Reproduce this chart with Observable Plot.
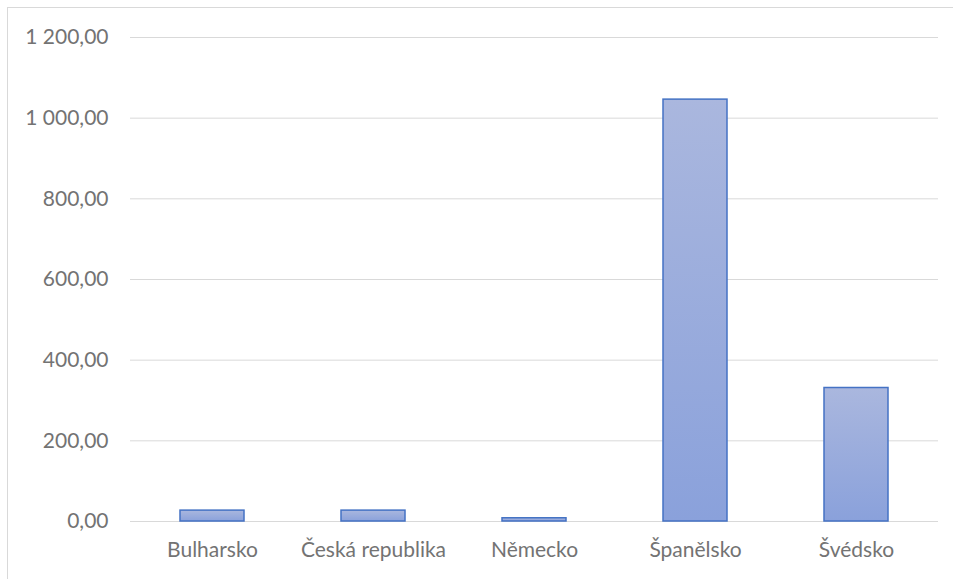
<!DOCTYPE html>
<html><head><meta charset="utf-8">
<script src="https://cdn.jsdelivr.net/npm/d3@7"></script>
<script src="https://cdn.jsdelivr.net/npm/@observablehq/plot@0.6"></script>
<style>
body{margin:0;background:#fff;}
#wrap{position:relative;width:953px;height:579px;overflow:hidden;}
#frame{position:absolute;left:7px;top:7px;width:2000px;height:2000px;border:1px solid #d9d9d9;box-sizing:border-box;pointer-events:none;}
#chart{position:absolute;left:0;top:0;}
</style></head>
<body><div id="wrap"><div id="chart"></div><div id="frame"></div></div>
<script>
const categories = ["Bulharsko", "Česká republika", "Německo", "Španělsko", "Švédsko"];
const values = [27, 27, 8, 1046, 331];
const yTicks = [0, 200, 400, 600, 800, 1000, 1200];

const data = categories.map((c, i) => ({country: c, value: values[i]}));
const loc = d3.formatLocale({decimal: ",", thousands: "\u00a0", grouping: [3], currency: ["", ""]});
const fmt = d => loc.format(",.2f")(d).replace(/\u00a0/g, " ");

const plot = Plot.plot({
  width: 953,
  height: 579,
  marginLeft: 130,
  marginRight: 15,
  marginTop: 37,
  marginBottom: 58,
  style: {fontFamily: "Lato, sans-serif", fontSize: "21px", color: "#737373", background: "transparent"},
  x: {domain: categories, paddingInner: 0.6, paddingOuter: 0.3, label: null, axis: null},
  y: {domain: [0, 1200], label: null, axis: null},
  marks: [
    () => {
      const ns = "http://www.w3.org/2000/svg";
      const g = document.createElementNS(ns, "defs");
      g.innerHTML = '<linearGradient id="barGrad" x1="0" y1="0" x2="0" y2="1"><stop offset="0" stop-color="#aab7de"/><stop offset="1" stop-color="#8aa1db"/></linearGradient>';
      return g;
    },
    Plot.gridY(yTicks, {stroke: "#d9d9d9", strokeOpacity: 1, strokeWidth: 1}),
    Plot.barY(data, {x: "country", y: "value", fill: "url(#barGrad)", stroke: "#4472c4", strokeWidth: 1.5}),
    Plot.axisX({tickSize: 0, tickPadding: 21, fill: "#737373"}),
    Plot.axisY(yTicks, {tickSize: 0, tickPadding: 22, tickFormat: fmt, fill: "#737373", label: null})
  ]
});
document.getElementById("chart").appendChild(plot);
</script></body></html>
